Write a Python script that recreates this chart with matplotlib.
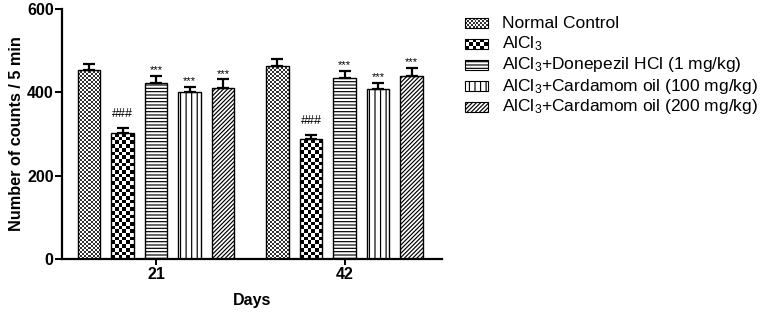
import numpy as np
import matplotlib
matplotlib.use("Agg")
from matplotlib import pyplot as plt
from matplotlib.patches import Rectangle

plt.rcParams['font.family'] = ['Liberation Sans', 'DejaVu Sans']
plt.rcParams['mathtext.fontset'] = 'custom'
plt.rcParams['mathtext.rm'] = 'Liberation Sans'
plt.rcParams['mathtext.default'] = 'regular'
plt.rcParams['hatch.linewidth'] = 0.85

# data
days = ['21', '42']
groups = ['Normal Control', 'AlCl$_3$', 'AlCl$_3$+Donepezil HCl (1 mg/kg)',
          'AlCl$_3$+Cardamom oil (100 mg/kg)', 'AlCl$_3$+Cardamom oil (200 mg/kg)']
means_21 = [454, 302, 422, 401, 411]
sem_21 = [15, 12, 17, 12, 20]
means_42 = [464, 287, 434, 409, 439]
sem_42 = [16, 11, 17, 13, 20]
marks = ['', '###', '***', '***', '***']

means = np.array([means_21, means_42])
sems = np.array([sem_21, sem_42])

# fill style per group: ('checker', cell px, dark value) or hatch string
fills = [('checker', 2.0, 0.2), ('checker', 3.7, 0.0), '-----', '|||', '////////']

W, H = 764, 312
fig = plt.figure(figsize=(W / 100, H / 100), dpi=100)
ax = fig.add_axes([62 / W, 1 - 259 / H, 380 / W, 250 / H])

step = 0.178
width = 0.12
xc = np.arange(len(days))
ax.set_xlim(-0.499, 1.517)
ax.set_ylim(0, 600)


def checker_img(target, x0, x1, y0, y1, npx_w, npx_h, cell, dark, clip):
    nc = max(1, int(round(npx_w / cell)))
    nr = max(1, int(round(npx_h / cell)))
    ii, jj = np.indices((nr, nc))
    arr = np.where((ii + jj) % 2 == 0, dark, 1.0)
    im = target.imshow(arr, extent=(x0, x1, y0, y1), cmap='gray', vmin=0, vmax=1,
                       interpolation='nearest', aspect='auto', origin='lower', zorder=2)
    im.set_clip_path(clip)
    return im


for g in range(len(groups)):
    xs = xc + (g - 2) * step
    f = fills[g]
    hatch = f if isinstance(f, str) else None
    bars = ax.bar(xs, means[:, g], width=width, facecolor='none', edgecolor='black',
                  linewidth=1.0, hatch=hatch, zorder=3)
    ax.errorbar(xs, means[:, g], yerr=[np.zeros(len(days)), sems[:, g]], fmt='none',
                ecolor='black', elinewidth=1.6, capsize=4, capthick=1.6, zorder=4)
    for b, x, m, s in zip(bars, xs, means[:, g], sems[:, g]):
        if not isinstance(f, str):
            (px0, py0), (px1, py1) = ax.transData.transform([(b.get_x(), 0), (b.get_x() + width, m)])
            checker_img(ax, b.get_x(), b.get_x() + width, 0, m, px1 - px0, py1 - py0,
                        f[1], f[2], b)
        if marks[g]:
            fs = 9 if marks[g] == '###' else 8
            off = 6 if marks[g] == '###' else 0.5
            ax.annotate(marks[g], (x, m + s), xytext=(0, off), textcoords='offset points',
                        ha='center', va='bottom', fontsize=fs)

ax.set_xlim(-0.499, 1.517)
ax.set_ylim(0, 600)
ax.set_yticks([0, 200, 400, 600])
ax.set_xticks(xc)
ax.set_xticklabels(days)
for sp in ['top', 'right']:
    ax.spines[sp].set_visible(False)
for sp in ['left', 'bottom']:
    ax.spines[sp].set_linewidth(1.6)
ax.tick_params(axis='y', length=5, width=1.4, labelsize=11.5, pad=1)
ax.tick_params(axis='x', length=4, width=1.4, labelsize=11.5, pad=2)
for lab in ax.get_xticklabels() + ax.get_yticklabels():
    lab.set_fontweight('bold')
ax.set_ylabel('Number of counts / 5 min', fontsize=11.7, fontweight='bold', labelpad=2)
ax.set_xlabel('Days', fontsize=11.5, fontweight='bold', labelpad=8)

# legend drawn by hand so the checker fills match
lax = fig.add_axes([460 / W, 1 - 120 / H, 304 / W, 112 / H])
lax.set_xlim(0, 304)
lax.set_ylim(112, 0)
lax.axis('off')
row_y = 15 + 21 * np.arange(len(groups))
for g, (label, y) in enumerate(zip(groups, row_y)):
    f = fills[g]
    hatch = f if isinstance(f, str) else None
    r = Rectangle((5, y - 5), 23, 10, facecolor='none', edgecolor='black',
                  linewidth=0.8, hatch=hatch, zorder=3)
    lax.add_patch(r)
    if not isinstance(f, str):
        checker_img(lax, 5, 28, y + 5, y - 5, 23, 10, f[1], f[2], r)
    lax.text(42, y, label, fontsize=12.5, va='center', ha='left')
lax.set_xlim(0, 304)
lax.set_ylim(112, 0)

fig.savefig('out.png', dpi=100)
